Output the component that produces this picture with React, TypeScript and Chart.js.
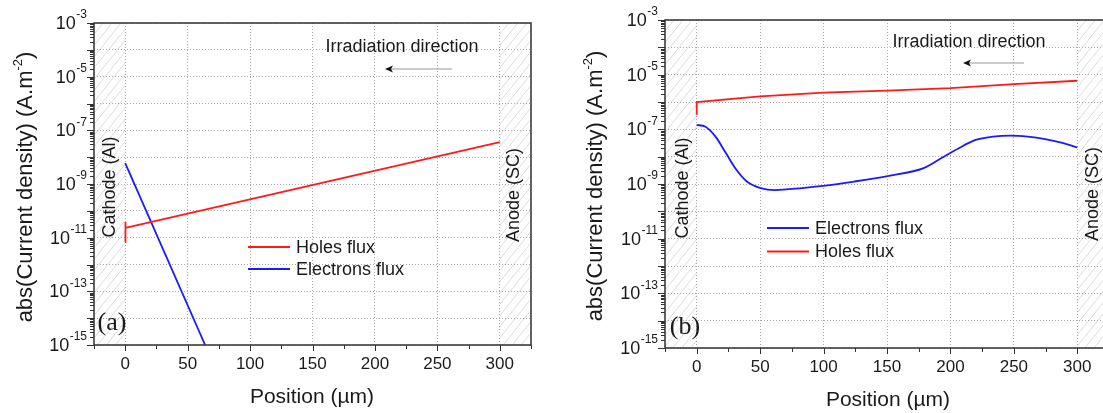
import React, { useEffect, useRef } from 'react';
import { Chart, registerables } from 'chart.js';

Chart.register(...registerables);

// ---------- data ----------
const xTickValues = [0, 50, 100, 150, 200, 250, 300];
const yDecadeExponents = [-15, -14, -13, -12, -11, -10, -9, -8, -7, -6, -5, -4, -3];
const yLabelExponents = [-3, -5, -7, -9, -11, -13, -15];
const hatchRanges = [[-25, 0], [300, 325]];

// panel (a)
const holesAX = [0, 0, 0.4, 300];
const holesAY = [6.9e-12, 3.8e-11, 2.3e-11, 3.6e-8];
const electronsAX = [0, 64];
const electronsAY = [6.0e-9, 1.0e-15];

// panel (b)
const electronsBX = [0, 6.6, 14.8, 23, 31.3, 39.5, 50.4, 61.3, 83.2, 99.6, 124.2, 151.5, 178.9, 192.6, 206.2, 219.9, 233.5, 247.2, 260.9, 274.6, 288.2, 300];
const electronsBY = [1.45e-7, 1.26e-7, 5.4e-8, 1.35e-8, 3.3e-9, 1.23e-9, 7.1e-10, 6.0e-10, 7.1e-10, 8.5e-10, 1.23e-9, 2.0e-9, 3.8e-9, 8.7e-9, 2.0e-8, 4.1e-8, 5.4e-8, 5.9e-8, 5.4e-8, 4.4e-8, 3.2e-8, 2.2e-8];
const holesBX = [0, 0, 50, 100, 150, 200, 250, 300];
const holesBY = [3.4e-7, 1.0e-6, 1.6e-6, 2.2e-6, 2.6e-6, 3.2e-6, 4.5e-6, 6.0e-6];

// ---------- styles ----------
const FONT = "'Liberation Sans', Arial, sans-serif";
const SERIF = "'Liberation Serif', 'Times New Roman', serif";
const TEXT = '#1a1a1a';
const RED = '#ff1a1a';
const BLUE = '#1a1aff';

function pts(xs: number[], ys: number[]) {
  return xs.map((x, i) => ({ x, y: ys[i] }));
}

const panelA = {
  tag: '(a)',
  canvasWidth: 551,
  area: { left: 94, top: 23, right: 531, bottom: 345 },
  yTitle: { x: 26, y: 187 },
  xTitle: { x: 312, y: 397 },
  cathode: { x: 110, y: 187 },
  anode: { x: 514, y: 195 },
  irr: { x: 402, y: 47 },
  arrow: { x1: 385, x2: 452, y: 69 },
  tagPos: { x: 112, y: 323 },
  legend: { x1: 248, x2: 290, tx: 296, y0: 247, dy: 22 },
  datasets: [
    { label: 'Holes flux', xs: holesAX, ys: holesAY, color: RED, smooth: false },
    { label: 'Electrons flux', xs: electronsAX, ys: electronsAY, color: BLUE, smooth: false },
  ],
};

const panelB = {
  tag: '(b)',
  canvasWidth: 570,
  area: { left: 114, top: 20, right: 558, bottom: 348 },
  yTitle: { x: 45, y: 186 },
  xTitle: { x: 337, y: 400 },
  cathode: { x: 132, y: 188 },
  anode: { x: 542, y: 194 },
  irr: { x: 418, y: 42 },
  arrow: { x1: 412, x2: 473, y: 63 },
  tagPos: { x: 134, y: 327 },
  legend: { x1: 216, x2: 258, tx: 264, y0: 228, dy: 23.5 },
  datasets: [
    { label: 'Electrons flux', xs: electronsBX, ys: electronsBY, color: BLUE, smooth: true },
    { label: 'Holes flux', xs: holesBX, ys: holesBY, color: RED, smooth: false },
  ],
};

function rotatedText(ctx: CanvasRenderingContext2D, text: string, x: number, y: number, font: string) {
  ctx.save();
  ctx.translate(x, y);
  ctx.rotate(-Math.PI / 2);
  ctx.font = font;
  ctx.fillStyle = TEXT;
  ctx.textAlign = 'center';
  ctx.textBaseline = 'middle';
  ctx.fillText(text, 0, 0);
  ctx.restore();
}

function makeDecor(panel: any) {
  return {
    id: 'decor',
    beforeDraw(chart: any) {
      const { ctx, chartArea: a, scales } = chart;
      const xs = scales.x;
      const H = a.bottom - a.top;
      hatchRanges.forEach(([r0, r1]) => {
        const x1 = xs.getPixelForValue(r0);
        const x2 = xs.getPixelForValue(r1);
        ctx.save();
        ctx.beginPath();
        ctx.rect(x1, a.top, x2 - x1, H);
        ctx.clip();
        ctx.strokeStyle = '#dcdcdc';
        ctx.lineWidth = 1;
        ctx.beginPath();
        const slope = 0.8;
        for (let k = x1 - H * slope; k < x2 + 2; k += 9) {
          ctx.moveTo(k, a.bottom);
          ctx.lineTo(k + H * slope, a.top);
        }
        ctx.stroke();
        ctx.restore();
      });
    },
    afterDraw(chart: any) {
      const { ctx, chartArea: a, scales } = chart;
      const xs = scales.x;
      const ys = scales.y;
      ctx.save();
      // frame
      ctx.strokeStyle = '#3c3c3c';
      ctx.lineWidth = 1.6;
      ctx.strokeRect(a.left, a.top, a.right - a.left, a.bottom - a.top);
      // y ticks
      ctx.lineWidth = 1;
      ctx.strokeStyle = '#333';
      ctx.beginPath();
      for (let e = -15; e <= -3; e++) {
        for (let m = 1; m <= 9; m++) {
          if (e === -3 && m > 1) break;
          const py = Math.round(ys.getPixelForValue(m * Math.pow(10, e))) + 0.5;
          const len = m === 1 ? 7 : 4;
          ctx.moveTo(a.left, py);
          ctx.lineTo(a.left - len, py);
        }
      }
      // x ticks
      for (let v = -25; v <= 325; v += 25) {
        const px = Math.round(xs.getPixelForValue(v)) + 0.5;
        const len = v % 50 === 0 ? 6 : 4;
        ctx.moveTo(px, a.bottom);
        ctx.lineTo(px, a.bottom + len);
      }
      ctx.stroke();

      // y tick labels with superscripts
      ctx.fillStyle = TEXT;
      yLabelExponents.forEach((e) => {
        const py = ys.getPixelForValue(Math.pow(10, e));
        const sup = String(e);
        ctx.font = `12px ${FONT}`;
        const supW = ctx.measureText(sup).width;
        const xEnd = a.left - 7;
        ctx.textAlign = 'left';
        ctx.textBaseline = 'middle';
        ctx.fillText(sup, xEnd - supW, py - 8);
        ctx.font = `18px ${FONT}`;
        ctx.textAlign = 'right';
        ctx.fillText('10', xEnd - supW - 0.5, py + 1);
      });

      // y title with superscript
      {
        const p1 = 'abs(Current density) (A.m';
        const p2 = '-2';
        const p3 = ')';
        const f1 = `22px ${FONT}`;
        const f2 = `13px ${FONT}`;
        ctx.save();
        ctx.translate(panel.yTitle.x, panel.yTitle.y);
        ctx.rotate(-Math.PI / 2);
        ctx.textBaseline = 'middle';
        ctx.textAlign = 'left';
        ctx.font = f1;
        const w1 = ctx.measureText(p1).width;
        const w3 = ctx.measureText(p3).width;
        ctx.font = f2;
        const w2 = ctx.measureText(p2).width;
        const total = w1 + w2 + w3;
        let cx = -total / 2;
        ctx.font = f1;
        ctx.fillText(p1, cx, 0);
        cx += w1;
        ctx.font = f2;
        ctx.fillText(p2, cx, -8);
        cx += w2;
        ctx.font = f1;
        ctx.fillText(p3, cx, 0);
        ctx.restore();
      }

      // x title
      ctx.font = `21px ${FONT}`;
      ctx.textAlign = 'center';
      ctx.textBaseline = 'middle';
      ctx.fillStyle = TEXT;
      ctx.fillText('Position (µm)', panel.xTitle.x, panel.xTitle.y);

      // electrode labels
      rotatedText(ctx, 'Cathode (Al)', panel.cathode.x, panel.cathode.y, `18px ${FONT}`);
      rotatedText(ctx, 'Anode (SC)', panel.anode.x, panel.anode.y, `18px ${FONT}`);

      // irradiation direction
      ctx.font = `18px ${FONT}`;
      ctx.textAlign = 'center';
      ctx.textBaseline = 'middle';
      ctx.fillStyle = TEXT;
      ctx.fillText('Irradiation direction', panel.irr.x, panel.irr.y);
      ctx.strokeStyle = '#9a9a9a';
      ctx.lineWidth = 1.2;
      ctx.beginPath();
      ctx.moveTo(panel.arrow.x1 + 5, panel.arrow.y);
      ctx.lineTo(panel.arrow.x2, panel.arrow.y);
      ctx.stroke();
      ctx.fillStyle = '#111';
      ctx.beginPath();
      ctx.moveTo(panel.arrow.x1, panel.arrow.y);
      ctx.lineTo(panel.arrow.x1 + 8, panel.arrow.y - 3.5);
      ctx.lineTo(panel.arrow.x1 + 6, panel.arrow.y);
      ctx.lineTo(panel.arrow.x1 + 8, panel.arrow.y + 3.5);
      ctx.closePath();
      ctx.fill();

      // panel tag
      ctx.fillStyle = TEXT;
      ctx.font = `26px ${SERIF}`;
      ctx.textAlign = 'center';
      ctx.textBaseline = 'middle';
      ctx.fillText(panel.tag, panel.tagPos.x, panel.tagPos.y);

      // legend
      chart.data.datasets.forEach((ds: any, i: number) => {
        const y = panel.legend.y0 + i * panel.legend.dy;
        ctx.strokeStyle = ds.borderColor;
        ctx.lineWidth = 2;
        ctx.beginPath();
        ctx.moveTo(panel.legend.x1, y);
        ctx.lineTo(panel.legend.x2, y);
        ctx.stroke();
        ctx.fillStyle = TEXT;
        ctx.font = `18px ${FONT}`;
        ctx.textAlign = 'left';
        ctx.textBaseline = 'middle';
        ctx.fillText(ds.label, panel.legend.tx, y + 1);
      });
      ctx.restore();
    },
  };
}

function buildConfig(panel: any): any {
  const gridStyle = {
    color: '#a8a8a8',
    lineWidth: 1,
    drawTicks: false,
  };
  const borderStyle = { display: false, dash: [1, 2] };
  return {
    type: 'line',
    data: {
      datasets: panel.datasets.map((d: any) => ({
        label: d.label,
        data: pts(d.xs, d.ys),
        borderColor: d.color,
        backgroundColor: d.color,
        borderWidth: 1.8,
        pointRadius: 0,
        fill: false,
        tension: 0,
        cubicInterpolationMode: d.smooth ? 'monotone' : 'default',
      })),
    },
    options: {
      responsive: false,
      animation: false,
      devicePixelRatio: 1,
      events: [],
      layout: {
        padding: { left: 0, top: panel.area.top, right: panel.canvasWidth - panel.area.right, bottom: 0 },
      },
      plugins: { legend: { display: false }, tooltip: { enabled: false } },
      scales: {
        x: {
          type: 'linear',
          min: -25,
          max: 325,
          border: borderStyle,
          grid: gridStyle,
          ticks: { font: { family: FONT, size: 17 }, color: TEXT, padding: 9, maxRotation: 0, autoSkip: false },
          afterBuildTicks: (s: any) => {
            s.ticks = xTickValues.map((v) => ({ value: v }));
          },
          afterFit: (s: any) => {
            s.height = 413 - panel.area.bottom;
          },
        },
        y: {
          type: 'logarithmic',
          min: 1e-15,
          max: 1e-3,
          border: borderStyle,
          grid: gridStyle,
          ticks: { display: false },
          afterBuildTicks: (s: any) => {
            s.ticks = yDecadeExponents.map((e) => ({ value: Math.pow(10, e), major: true }));
          },
          afterFit: (s: any) => {
            s.width = panel.area.left;
          },
        },
      },
    },
    plugins: [makeDecor(panel)],
  };
}

function ChartPanel({ panel, left, width }: { panel: any; left: number; width: number }) {
  const ref = useRef<HTMLCanvasElement>(null);
  useEffect(() => {
    const chart = new Chart(ref.current as HTMLCanvasElement, buildConfig(panel));
    return () => chart.destroy();
  }, []);
  return (
    <div style={{ position: 'absolute', left, top: 0, width, height: 413, overflow: 'hidden' }}>
      <canvas
        ref={ref}
        width={panel.canvasWidth}
        height={413}
        style={{ display: 'block', width: panel.canvasWidth, height: 413 }}
      />
    </div>
  );
}

export default function App() {
  return (
    <div style={{ position: 'fixed', left: 0, top: 0, width: 1103, height: 413, overflow: 'hidden', background: '#fff' }}>
      <ChartPanel panel={panelA} left={0} width={551} />
      <ChartPanel panel={panelB} left={551} width={552} />
    </div>
  );
}
